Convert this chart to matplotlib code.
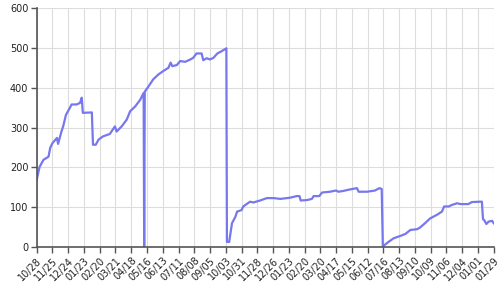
import matplotlib
matplotlib.use("Agg")
import matplotlib.pyplot as plt

# data: (category index, value)
idx = [0, 5, 12, 21, 24, 28, 36, 38, 44, 47, 52, 58, 62, 71, 77, 80, 82, 98, 100, 105,
       110, 118, 130, 139, 142, 151, 160, 166, 175, 184, 190, 191, 192, 198, 207, 216,
       225, 234, 238, 241, 249, 255, 264, 273, 278, 284, 293, 296, 302, 308, 314, 321,
       329, 337, 338, 342, 347, 353, 356, 364, 367, 379, 385, 397, 409, 421, 433, 450,
       462, 467, 469, 480, 489, 492, 502, 507, 521, 532, 536, 545, 554, 569, 572, 587,
       601, 609, 613, 615, 616, 625, 634, 646, 655, 664, 676, 681, 690, 699, 711, 720,
       724, 732, 738, 747, 753, 767, 773, 788, 791, 793, 795, 799, 803, 809, 812]
values = [169, 201, 219, 227, 249, 261, 274, 259, 290, 303, 332, 347, 358, 358, 362, 375,
          337, 338, 257, 257, 270, 278, 284, 303, 290, 303, 320, 341, 353, 370, 387, 0,
          390, 402, 421, 433, 442, 450, 463, 454, 457, 467, 465, 471, 475, 486, 486, 469,
          474, 471, 475, 486, 492, 499, 13, 13, 60, 76, 89, 93, 102, 114, 112, 117, 123,
          123, 121, 124, 128, 128, 117, 118, 121, 128, 128, 137, 139, 142, 139, 141, 144,
          148, 139, 139, 142, 148, 146, 2, 3, 13, 22, 28, 33, 43, 45, 49, 60, 72, 81, 89,
          102, 102, 106, 110, 108, 108, 113, 114, 114, 70, 68, 58, 64, 66, 60]

tick_labels = ["10/28", "11/25", "12/24", "01/23", "02/20", "03/21", "04/18", "05/16",
               "06/13", "07/11", "08/08", "09/05", "10/03", "10/31", "11/28", "12/26",
               "01/23", "02/20", "03/20", "04/17", "05/15", "06/12", "07/16", "08/13",
               "09/10", "10/09", "11/06", "12/04", "01/01", "01/29"]
tick_step = 28
y_ticks = [0, 100, 200, 300, 400, 500, 600]

fig = plt.figure(figsize=(5, 2.87), dpi=100)
ax = fig.add_axes([0.0734, 0.139, 0.914, 0.833])
ax.plot(idx, values, color="#7777ee", lw=1.6, solid_joinstyle="round")

ax.set_xlim(0, tick_step * (len(tick_labels) - 1))
ax.set_ylim(0, 600)
ax.set_xticks([i * tick_step for i in range(len(tick_labels))])
ax.set_xticklabels(tick_labels, rotation=45, ha="right", rotation_mode="anchor",
                   fontsize=7, color="#222222")
ax.set_yticks(y_ticks)
ax.set_yticklabels([str(v) for v in y_ticks], fontsize=7, color="#222222")
ax.grid(True, color="#dddddd", lw=0.8)
ax.set_axisbelow(True)
for s in ["top", "right"]:
    ax.spines[s].set_visible(False)
for s in ["left", "bottom"]:
    ax.spines[s].set_color("#555555")
    ax.spines[s].set_linewidth(1.2)
ax.tick_params(axis="both", direction="out", length=4, width=1, color="#555555", pad=2)

fig.savefig("out.png", dpi=100)
